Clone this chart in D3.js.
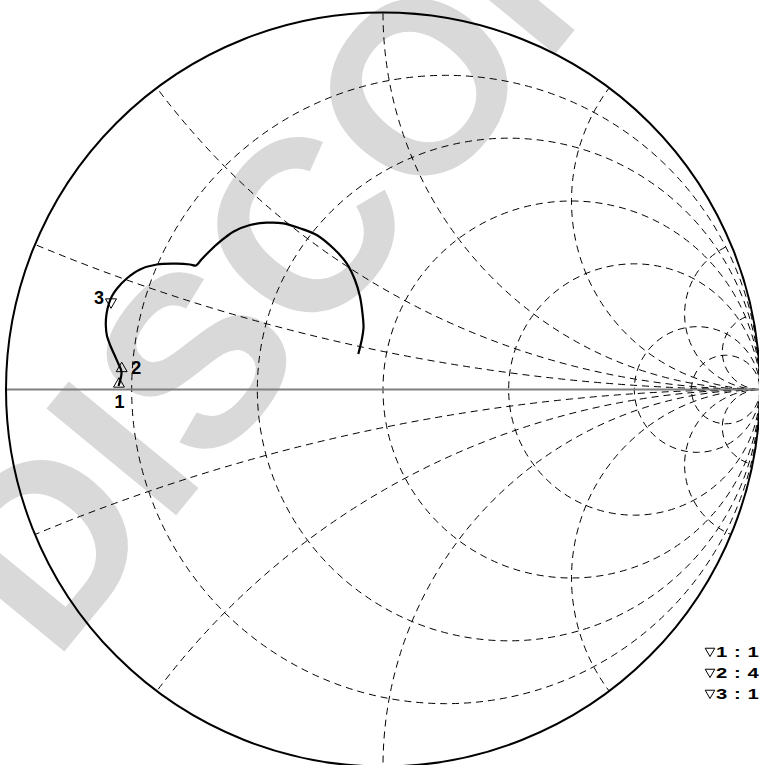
<!DOCTYPE html>
<html>
<head>
<meta charset="utf-8">
<script src="https://cdn.jsdelivr.net/npm/d3@7"></script>
<style>
  html, body { margin: 0; padding: 0; background: #fff; }
  svg { display: block; }
  text { font-family: "Liberation Sans", Arial, sans-serif; }
</style>
</head>
<body>
<svg id="chart" width="759" height="765"></svg>
<script>
// grid values (normalised impedance)
const resistances = [0.2, 0.5, 1, 2, 5, 10];
const reactances = [0.2, 0.5, 1, 2, 5, 10, -0.2, -0.5, -1, -2, -5, -10];

// trace, reflection coefficient (real / imaginary)
const traceRe = [-0.7016, -0.6936, -0.7016, -0.7109, -0.7228, -0.7321, -0.7353, -0.7334, -0.7273, -0.7188,
  -0.7064, -0.6798, -0.6446, -0.6003, -0.5472, -0.5119, -0.4960, -0.4828, -0.4589, -0.4324,
  -0.3971, -0.3528, -0.3085, -0.2645, -0.2202, -0.1759, -0.1318, -0.0963, -0.0743, -0.0610,
  -0.0544, -0.0517, -0.0565, -0.0655];
const traceIm = [0.0093, 0.0464, 0.0676, 0.0889, 0.1154, 0.1419, 0.1711, 0.2003, 0.2268, 0.2480,
  0.2666, 0.2944, 0.3183, 0.3316, 0.3337, 0.3316, 0.3289, 0.3435, 0.3682, 0.3920,
  0.4186, 0.4363, 0.4424, 0.4408, 0.4276, 0.4098, 0.3745, 0.3347, 0.2905, 0.2462,
  0.2021, 0.1631, 0.1313, 0.0942];

const markerIds = ['1', '2', '3'];
const markerRe = [-0.7003, -0.6931, -0.7215];
const markerIm = [0.0146, 0.0557, 0.2321];
const markerDown = [false, false, true];

const legendLabels = ['1 : 1', '2 : 4', '3 : 1'];
const watermark = 'DISCONTINUED';

const cx = 383;
const cy = 389.5;
const R = 377;

const x = d3.scaleLinear().domain([-1, 1]).range([cx - R, cx + R]);
const y = d3.scaleLinear().domain([-1, 1]).range([cy + R, cy - R]);
const rad = d3.scaleLinear().domain([0, 1]).range([0, R]);

const svg = d3.select('#chart');

svg.append('text')
  .attr('transform', 'translate(54,664) rotate(-50.6)')
  .attr('font-size', 244)
  .attr('font-weight', 'bold')
  .attr('fill', '#d9d9d9')
  .text(watermark);

svg.append('defs')
  .append('clipPath')
  .attr('id', 'unit')
  .append('circle')
  .attr('cx', x(0))
  .attr('cy', y(0))
  .attr('r', rad(1));

const grid = svg.append('g')
  .attr('clip-path', 'url(#unit)')
  .attr('fill', 'none')
  .attr('stroke', '#000')
  .attr('stroke-width', 1)
  .attr('stroke-dasharray', '7,5');

grid.selectAll('circle.res')
  .data(resistances)
  .join('circle')
  .attr('class', 'res')
  .attr('cx', (d) => x(d / (1 + d)))
  .attr('cy', y(0))
  .attr('r', (d) => rad(1 / (1 + d)));

grid.selectAll('circle.reac')
  .data(reactances)
  .join('circle')
  .attr('class', 'reac')
  .attr('cx', x(1))
  .attr('cy', (d) => y(1 / d))
  .attr('r', (d) => rad(1 / Math.abs(d)));

svg.append('line')
  .attr('x1', x(-1))
  .attr('x2', x(1))
  .attr('y1', y(0))
  .attr('y2', y(0))
  .attr('stroke', '#808080')
  .attr('stroke-width', 2);

svg.append('circle')
  .attr('cx', x(0))
  .attr('cy', y(0))
  .attr('r', rad(1))
  .attr('fill', 'none')
  .attr('stroke', '#000')
  .attr('stroke-width', 2);

const line = d3.line()
  .x((i) => x(traceRe[i]))
  .y((i) => y(traceIm[i]))
  .curve(d3.curveCatmullRom.alpha(0.5));

svg.append('path')
  .datum(d3.range(traceRe.length))
  .attr('d', line)
  .attr('fill', 'none')
  .attr('stroke', '#000')
  .attr('stroke-width', 2.2)
  .attr('stroke-linejoin', 'round');

const tri = d3.symbol(d3.symbolTriangle, 52);
const labelPos = [[0.5, 24, 'middle'], [9.5, 5.5, 'start'], [-7, 2, 'end']];

const markers = svg.selectAll('g.marker')
  .data(markerIds)
  .join('g')
  .attr('class', 'marker')
  .attr('transform', (d, i) => `translate(${x(markerRe[i])},${y(markerIm[i])})`);

markers.append('path')
  .attr('d', tri)
  .attr('transform', (d, i) => (markerDown[i] ? 'rotate(180)' : null))
  .attr('fill', 'none')
  .attr('stroke', '#000')
  .attr('stroke-width', 1);

markers.append('text')
  .attr('x', (d, i) => labelPos[i][0])
  .attr('y', (d, i) => labelPos[i][1])
  .attr('text-anchor', (d, i) => labelPos[i][2])
  .attr('font-size', 18)
  .attr('font-weight', 'bold')
  .text((d) => d);

const legend = svg.selectAll('g.legend')
  .data(legendLabels)
  .join('g')
  .attr('class', 'legend')
  .attr('transform', (d, i) => `translate(710,${651 + i * 21})`);

legend.append('path')
  .attr('d', d3.symbol(d3.symbolTriangle, 40))
  .attr('transform', 'rotate(180)')
  .attr('fill', 'none')
  .attr('stroke', '#000')
  .attr('stroke-width', 1);

legend.append('text')
  .attr('transform', 'translate(6,6) scale(1.35,1)')
  .attr('font-size', 15)
  .attr('font-weight', 'bold')
  .attr('letter-spacing', 0.4)
  .style('white-space', 'pre')
  .text((d) => d);
</script>
</body>
</html>
